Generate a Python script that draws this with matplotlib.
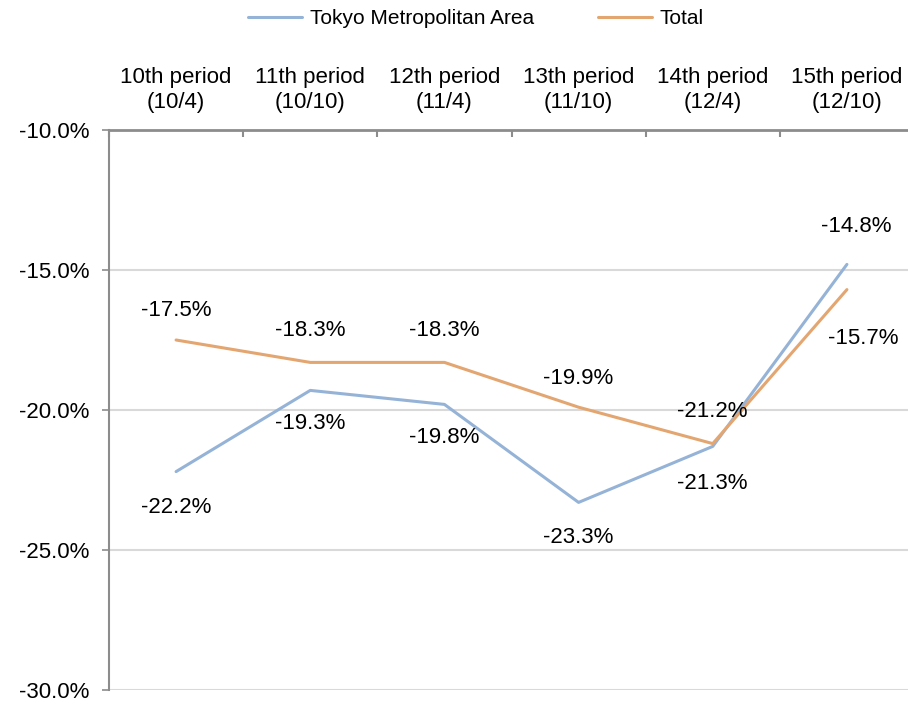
import numpy as np
import matplotlib.pyplot as plt
from matplotlib.ticker import FuncFormatter

plt.rcParams['font.family'] = ['Liberation Sans', 'DejaVu Sans']

periods = ['10th period\n(10/4)', '11th period\n(10/10)', '12th period\n(11/4)',
           '13th period\n(11/10)', '14th period\n(12/4)', '15th period\n(12/10)']
tokyo = [-22.2, -19.3, -19.8, -23.3, -21.3, -14.8]
total = [-17.5, -18.3, -18.3, -19.9, -21.2, -15.7]

# label offsets in points (dx, dy)
tokyo_off = [(0, -26), (0, -24), (0, -24), (0, -25), (0, -27), (6.5, 27)]
total_off = [(0, 21.5), (0, 23), (0, 23), (0, 21), (0, 23), (11.5, -35)]

blue = '#95B3D7'
orange = '#E4A671'

fig = plt.figure(figsize=(9.08, 7.05), dpi=100)
ax = fig.add_axes([109 / 908, 1 - 690 / 705, (914 - 109) / 908, 560 / 705])

x = np.arange(len(periods)) + 0.5
l1, = ax.plot(x, tokyo, color=blue, lw=2.2, label='Tokyo Metropolitan Area', solid_capstyle='round')
l2, = ax.plot(x, total, color=orange, lw=2.2, label='Total', solid_capstyle='round')

for xi, v, off in zip(x, tokyo, tokyo_off):
    ax.annotate('%.1f%%' % v, (xi, v), xytext=off, textcoords='offset points',
                ha='center', va='center', fontsize=16)
for xi, v, off in zip(x, total, total_off):
    ax.annotate('%.1f%%' % v, (xi, v), xytext=off, textcoords='offset points',
                ha='center', va='center', fontsize=16)

ax.set_xlim(0, 6)
ax.set_ylim(-30, -10)
ax.set_yticks([-30, -25, -20, -15, -10])
ax.yaxis.set_major_formatter(FuncFormatter(lambda v, p: '%.1f%%' % v))
ax.grid(axis='y', color='#D9D9D9', lw=1.5)
ax.set_axisbelow(True)

ax.xaxis.tick_top()
ax.set_xticks(np.arange(0, 7))
ax.set_xticklabels([])
ax.set_xticks(x, minor=True)
ax.set_xticklabels(periods, minor=True, fontsize=16, linespacing=1.3)
ax.tick_params(axis='x', which='major', direction='in', length=5, width=1.5, color='#8C8C8C')
ax.tick_params(axis='x', which='minor', length=0, pad=12)
ax.tick_params(axis='y', direction='out', length=5, width=1.2, color='#8C8C8C',
               labelsize=16, pad=9)

for s in ['right', 'bottom']:
    ax.spines[s].set_visible(False)
ax.spines['top'].set_color('#8C8C8C')
ax.spines['top'].set_linewidth(2)
ax.spines['left'].set_color('#8C8C8C')
ax.spines['left'].set_linewidth(1.5)

fig.legend(handles=[l1, l2], loc='center', bbox_to_anchor=(476 / 908, 1 - 19 / 705),
           ncol=2, frameon=False, fontsize=15, handlelength=2.6, columnspacing=3.1,
           handletextpad=0.35)

fig.savefig('out.png', dpi=100)
